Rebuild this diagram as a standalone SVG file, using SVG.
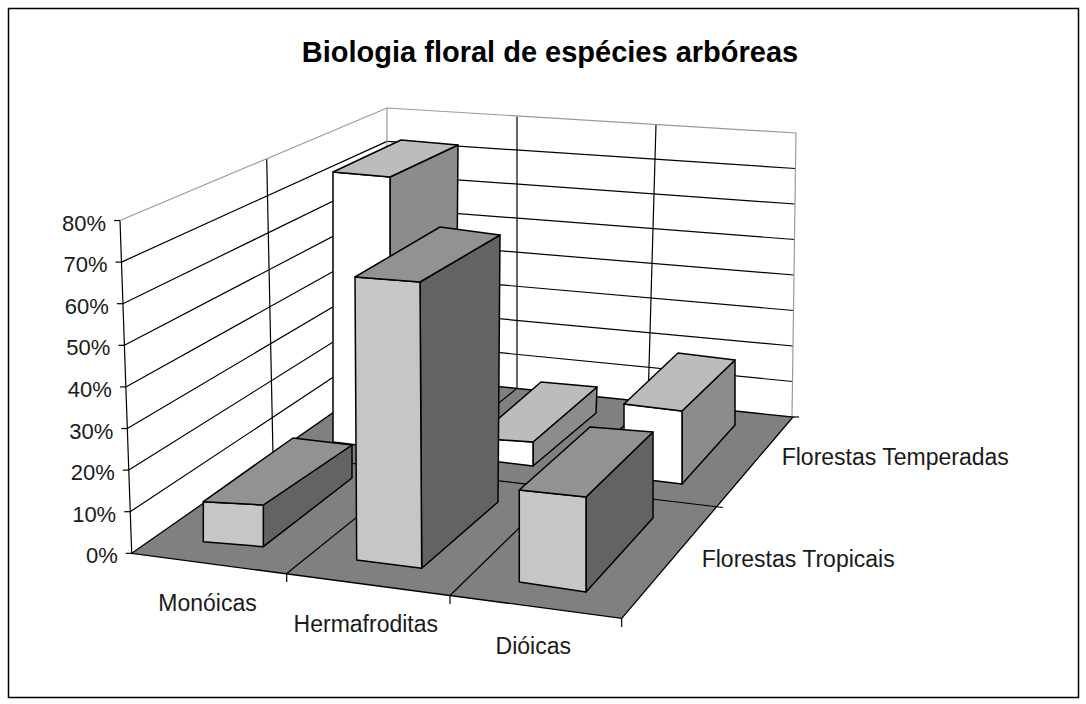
<svg xmlns="http://www.w3.org/2000/svg" width="1086" height="704" viewBox="0 0 1086 704">
<style>
.grid{stroke:#000;stroke-width:1.2;fill:none}
.edge{stroke:#9a9a9a;stroke-width:1.2;fill:none}
.wall{fill:#fff;stroke:none}
.bar polygon{stroke:#000;stroke-width:1.5;stroke-linejoin:round}
.trF{fill:#c6c6c6}.trT{fill:#929292}.trS{fill:#636363}
.teF{fill:#fff}.teT{fill:#bcbcbc}.teS{fill:#8c8c8c}
.lbl{font-family:"Liberation Sans",Arial,sans-serif;font-size:23px;fill:#1a1a1a}
.ylbl{font-family:"Liberation Sans",Arial,sans-serif;font-size:22px;fill:#1a1a1a;text-anchor:end}
.title{font-family:"Liberation Sans",Arial,sans-serif;font-size:29px;font-weight:bold;fill:#000;text-anchor:middle}
</style>
<rect x="0" y="0" width="1086" height="704" fill="#fff"/>
<rect x="8.5" y="8.5" width="1070" height="689" fill="none" stroke="#000" stroke-width="1.5"/>
<text class="title" x="550" y="62">Biologia floral de espécies arbóreas</text>

<g id="walls">
  <polygon class="wall" points="120,220.5 387,108 387,375 131.7,553.3"/>
  <polygon class="wall" points="387,108 796,133 792,417 387,375"/>
  <g class="grid">
    <line x1="130.2" y1="511.7" x2="387" y2="341.6"/>
    <line x1="128.8" y1="470.1" x2="387" y2="308.3"/>
    <line x1="127.3" y1="428.5" x2="387" y2="274.9"/>
    <line x1="125.9" y1="386.9" x2="387" y2="241.5"/>
    <line x1="124.4" y1="345.3" x2="387" y2="208.1"/>
    <line x1="122.9" y1="303.7" x2="387" y2="174.8"/>
    <line x1="121.5" y1="262.1" x2="387" y2="141.4"/>
    <line x1="387" y1="341.6" x2="792.5" y2="381.5"/>
    <line x1="387" y1="308.3" x2="793" y2="346"/>
    <line x1="387" y1="274.9" x2="793.5" y2="310.5"/>
    <line x1="387" y1="241.5" x2="794" y2="275"/>
    <line x1="387" y1="208.1" x2="794.5" y2="239.5"/>
    <line x1="387" y1="174.8" x2="795" y2="204"/>
    <line x1="387" y1="141.4" x2="795.5" y2="168.5"/>
    <line x1="266.7" y1="159" x2="273" y2="454"/>
    <line x1="517" y1="116.6" x2="517" y2="388.4"/>
    <line x1="656" y1="124.5" x2="648" y2="402"/>
  </g>
  <g class="edge">
    <polyline points="120,220.5 387,108 796,133 792,417"/>
    <line x1="387" y1="108" x2="387" y2="375"/>
  </g>
</g>

<g id="floor">
  <polygon points="131.7,553.3 621.7,618.3 793,417 387,375" fill="#808080" stroke="#000" stroke-width="1.3"/>
  <g class="grid">
    <line x1="286.7" y1="573.5" x2="517" y2="388.4"/>
    <line x1="450" y1="595.5" x2="648" y2="402"/>
    <line x1="273" y1="454" x2="723" y2="507.5"/>
    <line x1="286.7" y1="573.5" x2="286.7" y2="582"/>
    <line x1="450" y1="595.5" x2="450" y2="604"/>
    <line x1="621.7" y1="618.3" x2="621.7" y2="627"/>
    <line x1="793" y1="417" x2="799" y2="417"/>
  </g>
</g>

<g id="axis">
  <g class="grid">
    <line x1="120" y1="220.5" x2="131.7" y2="553.3"/>
    <line x1="114" y1="220.5" x2="120" y2="220.5"/>
    <line x1="115.5" y1="262.1" x2="121.5" y2="262.1"/>
    <line x1="116.9" y1="303.7" x2="122.9" y2="303.7"/>
    <line x1="118.4" y1="345.3" x2="124.4" y2="345.3"/>
    <line x1="119.9" y1="386.9" x2="125.9" y2="386.9"/>
    <line x1="121.3" y1="428.5" x2="127.3" y2="428.5"/>
    <line x1="122.8" y1="470.1" x2="128.8" y2="470.1"/>
    <line x1="124.2" y1="511.7" x2="130.2" y2="511.7"/>
    <line x1="125.7" y1="553.3" x2="131.7" y2="553.3"/>
  </g>
  <text class="ylbl" x="106" y="230.5">80%</text>
  <text class="ylbl" x="107.5" y="272.1">70%</text>
  <text class="ylbl" x="108.9" y="313.7">60%</text>
  <text class="ylbl" x="110.4" y="355.3">50%</text>
  <text class="ylbl" x="111.9" y="396.9">40%</text>
  <text class="ylbl" x="113.3" y="438.5">30%</text>
  <text class="ylbl" x="114.8" y="480.1">20%</text>
  <text class="ylbl" x="116.2" y="521.7">10%</text>
  <text class="ylbl" x="117.7" y="563.3">0%</text>
</g>

<g id="bar-monoicas-temperadas" class="bar">
  <polygon class="teS" points="390,177 458,145 456,392 390,449"/>
  <polygon class="teF" points="333,172 390,177 390,449 333,442"/>
  <polygon class="teT" points="333,172 390,177 458,145 401,140"/>
</g>
<g id="bar-hermafroditas-temperadas" class="bar">
  <polygon class="teS" points="533,442 597,387 596,413 533,466"/>
  <polygon class="teF" points="476,438 533,442 533,466 476,459"/>
  <polygon class="teT" points="476,438 533,442 597,387 541,382"/>
</g>
<g id="bar-dioicas-temperadas" class="bar">
  <polygon class="teS" points="682,411 735,360 735,425 682,484"/>
  <polygon class="teF" points="624,404 682,411 682,484 624,477"/>
  <polygon class="teT" points="624,404 682,411 735,360 678,353"/>
</g>

<g id="bar-monoicas-tropicais" class="bar">
  <polygon class="trS" points="263.3,505 352,445 352,478 263.3,546.7"/>
  <polygon class="trF" points="203.3,501.7 263.3,505 263.3,546.7 203.3,541.7"/>
  <polygon class="trT" points="203.3,501.7 263.3,505 352,445 293,438"/>
</g>
<g id="bar-hermafroditas-tropicais" class="bar">
  <polygon class="trS" points="420,282 500,235 498,502 421.7,568.3"/>
  <polygon class="trF" points="355,277 420,282 421.7,568.3 356.7,560"/>
  <polygon class="trT" points="355,277 420,282 500,235 440,227"/>
</g>
<g id="bar-dioicas-tropicais" class="bar">
  <polygon class="trS" points="586,497 653,432 653,518 586,592"/>
  <polygon class="trF" points="519.3,490 586,497 586,592 519.3,582"/>
  <polygon class="trT" points="519.3,490 586,497 653,432 590,427"/>
</g>

<g id="labels">
  <text class="lbl" x="207.5" y="611" text-anchor="middle">Monóicas</text>
  <text class="lbl" x="365.8" y="631.7" text-anchor="middle">Hermafroditas</text>
  <text class="lbl" x="533.3" y="654" text-anchor="middle">Dióicas</text>
  <text class="lbl" x="781.7" y="465">Florestas Temperadas</text>
  <text class="lbl" x="701.7" y="567.3">Florestas Tropicais</text>
</g>
</svg>
